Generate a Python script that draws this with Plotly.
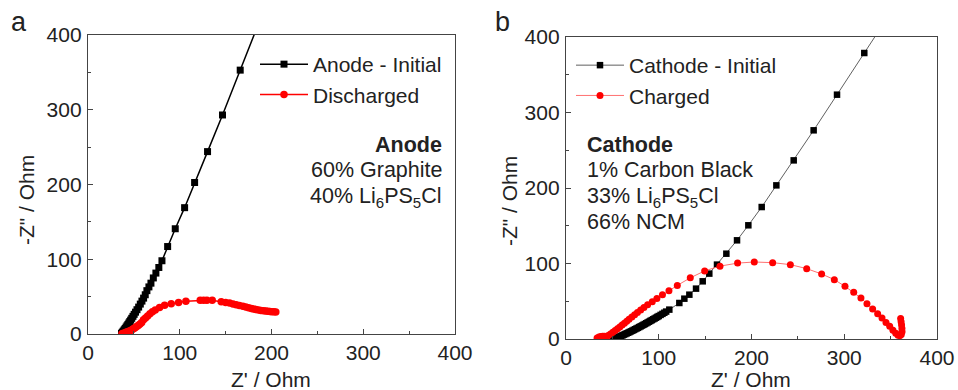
import plotly.graph_objects as go

# ---------------- data ----------------
# Panel a: Anode
anode_init_x = [36.5, 37.5, 38.5, 39.5, 40.5, 41.5, 42.5, 43.5, 44.5, 45.5, 46.5, 47.7, 49, 50.3, 51.8,
                53.4, 55.2, 57, 58.8, 60.6, 62.4, 64.2, 66.4, 68.6, 71.2, 74, 77.2, 80.6, 86.8, 95.1,
                105.3, 116.2, 130.3, 146.6, 165.9, 189]
anode_init_y = [1, 2.5, 4, 5.7, 7.4, 9.2, 11, 12.8, 14.7, 16.6, 18.6, 21, 23.6, 26.3, 29.2,
                32.5, 36, 40, 44, 48, 52.5, 58, 63, 68, 75, 81.5, 89, 98, 117, 140.8,
                169, 202.7, 244, 293, 353, 425]

anode_dis_x = [37, 38.5, 40, 41.5, 43, 44.5, 46, 47.5, 49, 50.5, 52, 53.5, 55, 56.7, 58.5, 60.5,
               62.7, 65, 67.5, 70.2, 73.3, 78, 83.5, 90.7, 98.7, 106.7, 122.3, 126, 129.6, 135.4,
               145.2, 150, 154.3, 158, 161.5, 165, 168.8, 172, 175, 178, 180.4, 183, 185.8, 188.5,
               191.3, 193.7, 196, 198.3, 200.4, 202.6, 204.7]
anode_dis_y = [0.4, 0.9, 1.5, 2.2, 2.9, 3.6, 4.5, 5.5, 6.6, 7.8, 9, 10.3, 11.8, 13.5, 15.5, 19,
               21.5, 24, 27, 29.8, 32, 35.6, 38.3, 40.5, 42.3, 43.7, 45, 45, 45, 45,
               43.2, 42.3, 41.4, 40.2, 39, 38, 37, 36, 35, 34.2, 33.4, 32.7, 32, 31.6,
               31.2, 30.7, 30.3, 30, 29.8, 29.6, 29.4]

# Panel b: Cathode
cath_init_x = [50.5, 52, 53.5, 55, 56.5, 58, 59.5, 61, 62.5, 64, 65.5, 67, 68.5, 70, 71.5, 73, 74.5,
               76, 77.5, 79, 80.5, 82, 83.5, 85, 86.5, 88, 89.5, 91, 92.5, 94, 95.5, 97, 98.5, 100,
               102, 104, 106, 108, 111.4, 122.2, 127.6, 133, 140.2, 147.4, 154.5, 162.8, 172.9,
               184.4, 196.6, 211, 226.8, 245.5, 267, 292.2, 321.6, 355]
cath_init_y = [0.2, 0.6, 1.3, 1.9, 2.6, 3.4, 4.1, 4.9, 5.8, 6.6, 7.5, 8.3, 9.2, 10.1, 11.0, 12.0, 12.9,
               13.9, 14.8, 15.8, 16.8, 17.8, 18.8, 19.8, 20.8, 21.9, 22.9, 24.0, 25.0, 26.1, 27.1, 28.2,
               29.3, 30.4, 31.9, 33.3, 34.8, 36.3, 38.9, 47.7, 53.4, 58.7, 66.7, 76.4, 86.6, 98.5, 113,
               130.7, 150.6, 174.8, 203.5, 236.6, 276.4, 323.6, 378.8, 441.6]

cath_chg_x = [33.5, 35.5, 37.5, 39.5, 41.5, 43.5, 45.5, 48, 50.5, 53, 55.5, 58, 60.5, 63, 65.5, 68,
              71, 74, 77, 80.5, 84, 88, 93, 98, 104, 111, 120, 134, 149.5, 166, 185, 203, 222.8,
              241.9, 259.5, 275.6, 289.3, 300.8, 310.2, 318, 324.5, 330.6, 336, 340.7, 345, 349,
              352.5, 355.5, 358, 360, 361.5, 362.3, 362.2, 361.8, 361.3, 360.8]
cath_chg_y = [1.3, 2.5, 3.3, 3.6, 3.5, 3.4, 4.5, 6.5, 8.8, 11.2, 13.6, 16, 18.5, 21, 23.5, 26,
              29, 32, 35, 38.5, 41.8, 45.3, 49.5, 53.5, 58.5, 64, 71, 81, 90.2, 96.5, 100.5, 102, 101.1,
              98.5, 93.2, 86.1, 78.6, 69.8, 61.8, 54.3, 46.8, 39.7, 33.6, 27.8, 22, 16.8,
              11.5, 7.5, 5, 4.4, 6, 9.5, 14, 18.5, 23, 27]

tick_vals = [0, 100, 200, 300, 400]
tick_text = ["0", "100", "200", "300", "400"]

FONT = "Liberation Sans, Arial, sans-serif"
TXT = "#222222"
AX = "#444444"
FS = 21
FA = 21.5

fig = go.Figure()

fig.add_trace(go.Scatter(x=anode_init_x, y=anode_init_y, mode="lines+markers", name="Anode - Initial",
                         line=dict(color="black", width=1.5),
                         marker=dict(symbol="square", size=7, color="black"),
                         xaxis="x", yaxis="y", legend="legend"))
fig.add_trace(go.Scatter(x=anode_dis_x, y=anode_dis_y, mode="lines+markers", name="Discharged",
                         line=dict(color="red", width=1.5),
                         marker=dict(symbol="circle", size=7.5, color="red"),
                         xaxis="x", yaxis="y", legend="legend"))
fig.add_trace(go.Scatter(x=cath_init_x, y=cath_init_y, mode="lines+markers", name="Cathode - Initial",
                         line=dict(color="#606060", width=1),
                         marker=dict(symbol="square", size=6.5, color="black"),
                         xaxis="x2", yaxis="y2", legend="legend2"))
fig.add_trace(go.Scatter(x=cath_chg_x, y=cath_chg_y, mode="lines+markers", name="Charged",
                         line=dict(color="#ff7070", width=1),
                         marker=dict(symbol="circle", size=7, color="red"),
                         xaxis="x2", yaxis="y2", legend="legend2"))

W, H = 958, 390

def axis(domain, anchor, standoff):
    return dict(domain=domain, anchor=anchor, range=[0, 400], tickvals=tick_vals, ticktext=tick_text,
                ticks="inside", ticklen=5, tickwidth=1.2, tickcolor=AX,
                minor=dict(ticks="inside", dtick=50, tick0=0, ticklen=3, tickwidth=1.2, tickcolor=AX),
                showline=True, linecolor=AX, linewidth=1.3, mirror=True, automargin=False,
                showgrid=False, zeroline=False, tickfont=dict(size=FS, color=TXT, family=FONT),
                ticklabelstandoff=standoff)

fig.update_layout(
    width=W, height=H, margin=dict(l=0, r=0, t=0, b=0, autoexpand=False),
    paper_bgcolor="white", plot_bgcolor="white",
    font=dict(family=FONT, size=FS, color=TXT),
    xaxis=axis([88 / W, 455 / W], "y", 0),
    yaxis=axis([1 - 334 / H, 1 - 35 / H], "x", 1),
    xaxis2=axis([566 / W, 937 / W], "y2", 0),
    yaxis2=axis([1 - 339 / H, 1 - 37 / H], "x2", 1),
    legend=dict(x=255 / W, y=1 - 44 / H, xanchor="left", yanchor="top", bgcolor="rgba(0,0,0,0)",
                font=dict(size=FS, color=TXT, family=FONT), itemwidth=48, tracegroupgap=0),
    legend2=dict(x=571 / W, y=1 - 45 / H, xanchor="left", yanchor="top", bgcolor="rgba(0,0,0,0)",
                 font=dict(size=FS, color=TXT, family=FONT), itemwidth=48, tracegroupgap=0),
    showlegend=True,
)

ann = []
def txt(x, y, s, size=FS, xanchor="center", textangle=0):
    ann.append(dict(x=x / W, y=1 - y / H, xref="paper", yref="paper", text=s, showarrow=False,
                    xanchor=xanchor, yanchor="middle", textangle=textangle,
                    font=dict(size=size, color=TXT, family=FONT)))

txt(19, 22, "a", size=27)
txt(502, 22, "b", size=27)
txt(271, 379, "Z' / Ohm")
txt(751, 379, "Z' / Ohm")
txt(27, 200, "-Z\" / Ohm", textangle=-90)
txt(510, 201, "-Z\" / Ohm", textangle=-90)

txt(444, 145, "<b>Anode</b>", size=FA, xanchor="right")
txt(444, 170, "60% Graphite", size=FA, xanchor="right")
txt(444, 197, "40% Li<sub>6</sub>PS<sub>5</sub>Cl", size=FA, xanchor="right")

txt(585, 145, "<b>Cathode</b>", size=FA, xanchor="left")
txt(585, 170, "1% Carbon Black", size=FA, xanchor="left")
txt(585, 197, "33% Li<sub>6</sub>PS<sub>5</sub>Cl", size=FA, xanchor="left")
txt(585, 222, "66% NCM", size=FA, xanchor="left")

fig.update_layout(annotations=ann)

fig.write_html("out.html")
